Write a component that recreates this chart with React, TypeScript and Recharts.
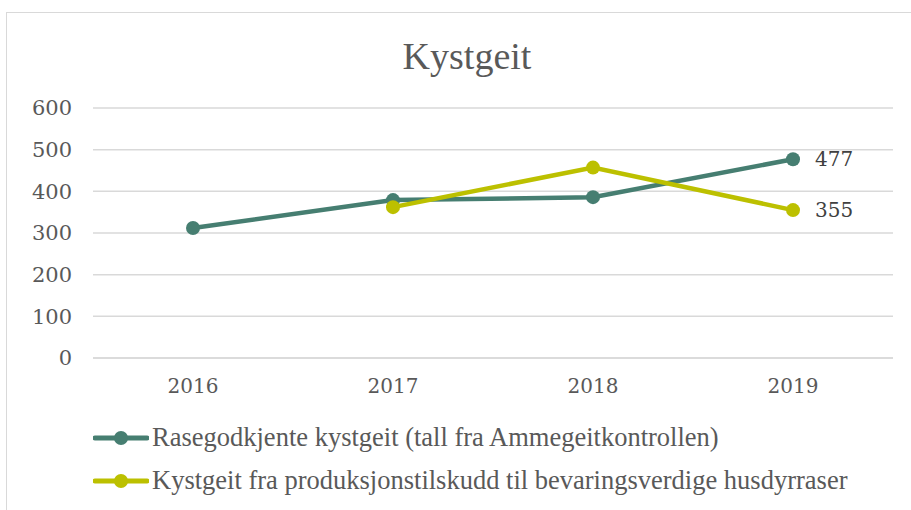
import { LineChart, Line, XAxis, YAxis, CartesianGrid, Legend } from 'recharts';

const years = ['2016', '2017', '2018', '2019'];
const rasegodkjente = [312, 379, 386, 477];
const produksjonstilskudd = [null, 362, 457, 355];
const yTicks = [0, 100, 200, 300, 400, 500, 600];

const seriesNames = [
  'Rasegodkjente kystgeit (tall fra Ammegeitkontrollen)',
  'Kystgeit fra produksjonstilskudd til bevaringsverdige husdyrraser',
];
const seriesColors = ['#467E71', '#BCC000'];

const data = years.map((year, i) => ({
  year,
  a: rasegodkjente[i],
  b: produksjonstilskudd[i],
}));

const TEXT = '#595959';
const TICK_FONT = '"DejaVu Serif", serif';
const LABEL_FONT = '"Liberation Serif", serif';

const lastLabel = (props: any) => {
  const { x, y, value, index } = props;
  if (index !== years.length - 1) return null;
  return (
    <text x={x + 22} y={y} dy={7} fill="#404040" fontSize={20} fontFamily={TICK_FONT}>
      {value}
    </text>
  );
};

const renderLegend = () => (
  <div>
    {seriesNames.map((name, i) => (
      <div key={name} style={{ display: 'flex', alignItems: 'center', height: 43 }}>
        <svg width={56} height={16} style={{ marginRight: 3 }}>
          <line x1={2} y1={8} x2={54} y2={8} stroke={seriesColors[i]} strokeWidth={5} strokeLinecap="round" />
          <circle cx={28} cy={8} r={7} fill={seriesColors[i]} />
        </svg>
        <span style={{ fontFamily: LABEL_FONT, fontSize: 26.5, color: TEXT, whiteSpace: 'nowrap' }}>{name}</span>
      </div>
    ))}
  </div>
);

export default function App() {
  return (
    <div style={{ position: 'absolute', left: 0, top: 0, width: 911, height: 510, background: '#fff', overflow: 'hidden' }}>
      <div
        style={{
          position: 'absolute',
          left: 6,
          top: 12,
          width: 920,
          height: 520,
          border: '1.5px solid #d9d9d9',
        }}
      />
      <div
        style={{
          position: 'absolute',
          left: 0,
          top: 34,
          width: 934,
          textAlign: 'center',
          fontFamily: LABEL_FONT,
          fontSize: 38,
          color: TEXT,
        }}
      >
        Kystgeit
      </div>
      <LineChart
        width={911}
        height={510}
        data={data}
        margin={{ top: 108, right: 18, bottom: 112, left: 33 }}
        style={{ position: 'absolute', left: 0, top: 0 }}
      >
        <CartesianGrid horizontal vertical={false} stroke="#d9d9d9" strokeWidth={1.5} />
        <XAxis
          dataKey="year"
          padding={{ left: 100, right: 100 }}
          axisLine={{ stroke: '#d9d9d9', strokeWidth: 1.5 }}
          tickLine={false}
          tickSize={0}
          tickMargin={21}
          height={40}
          tick={{ fill: TEXT, fontSize: 20, fontFamily: TICK_FONT }}
        />
        <YAxis
          domain={[0, 600]}
          ticks={yTicks}
          axisLine={false}
          tickLine={false}
          tickSize={0}
          tickMargin={21}
          width={60}
          tick={{ fill: TEXT, fontSize: 21, fontFamily: TICK_FONT }}
        />
        <Legend
          layout="vertical"
          align="center"
          verticalAlign="middle"
          content={renderLegend}
          wrapperStyle={{ left: 93, top: 416, width: 800 }}
        />
        <Line
          dataKey="a"
          name={seriesNames[0]}
          stroke={seriesColors[0]}
          strokeWidth={4.5}
          dot={{ r: 7, fill: seriesColors[0], stroke: seriesColors[0], strokeWidth: 0 }}
          activeDot={false}
          label={lastLabel}
          isAnimationActive={false}
        />
        <Line
          dataKey="b"
          name={seriesNames[1]}
          stroke={seriesColors[1]}
          strokeWidth={4.5}
          dot={{ r: 7, fill: seriesColors[1], stroke: seriesColors[1], strokeWidth: 0 }}
          activeDot={false}
          label={lastLabel}
          isAnimationActive={false}
        />
      </LineChart>
    </div>
  );
}
